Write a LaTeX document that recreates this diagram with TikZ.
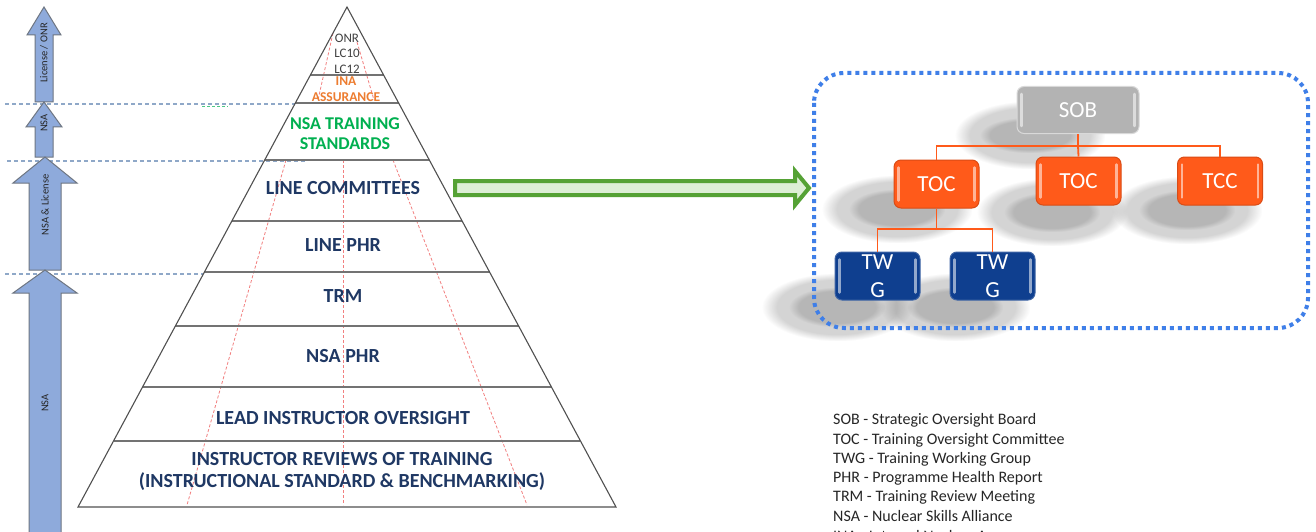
\documentclass[tikz,border=0pt]{standalone}
\usepackage{fontspec}
\setmainfont{Carlito}
\usetikzlibrary{fadings,calc}
\definecolor{navy}{HTML}{1F3864}
\definecolor{ngreen}{HTML}{00B050}
\definecolor{norange}{HTML}{ED7D31}
\definecolor{arrowblue}{HTML}{8EAADB}
\definecolor{arrowedge}{HTML}{6E7682}
\definecolor{dashblue}{HTML}{8FA8C8}
\definecolor{dotblue}{HTML}{3F7FE8}
\definecolor{redline}{HTML}{F27F7F}
\definecolor{tocorange}{HTML}{FF5A1A}
\definecolor{twgblue}{HTML}{0F3F8F}
\definecolor{sobgray}{HTML}{B3B3B3}
\definecolor{garrow}{HTML}{55A235}
\definecolor{garrowfill}{HTML}{DDEFD6}
\definecolor{pyredge}{HTML}{505050}
\definecolor{legendtext}{HTML}{262626}
\newcommand\fsz[2]{\fontsize{#1}{#2}\selectfont}
\newcommand\glossbox[1]{%
  \draw[glossline] ($(#1.north west)+(5,8)$) -- ($(#1.south west)+(5,-8)$);
  \draw[glossline] ($(#1.north east)+(-5,8)$) -- ($(#1.south east)+(-5,-8)$);}
\newcommand\softshadow[4]{%
  \fill[shadowblob, opacity=0.30] (#1-75,#2-34) rectangle (#1+75,#2+34);
  \fill[shadowblob, opacity=0.30] (#1-#3,#2-#4) rectangle (#1+#3,#2+#4);}
\begin{document}
\begin{tikzpicture}[x=1pt,y=-1pt,
  pyrlabel/.style={font=\bfseries\fsz{20}{22}, text=navy, align=center, inner sep=0pt},
  blockarrow/.style={fill=arrowblue, draw=arrowedge, line width=1pt, line join=miter},
  arrowlabel/.style={rotate=90, font=\fsz{10.5}{12}, text=black!85, inner sep=0pt},
  levelline/.style={dashblue, line width=1.3pt, dash pattern=on 4pt off 3pt},
  redguide/.style={redline, line width=0.8pt, dash pattern=on 3pt off 2pt},
  orgbox/.style={rounded corners=7pt, minimum width=85pt, minimum height=48pt, inner sep=0pt, text=white, align=center, font=\fsz{23}{28}, line width=1pt},
  shadowblob/.style={fill=black!55, path fading=circle with fuzzy edge 20 percent},
  glossline/.style={white, opacity=0.55, line width=2.5pt, line cap=round},
  orglink/.style={tocorange, line width=1.8pt},
  legend/.style={anchor=west, inner sep=0pt, font=\fsz{16}{18}, text=legendtext}
]
\useasboundingbox (0,0) rectangle (1316,532);
\clip (0,0) rectangle (1316,532);
\fill[white] (0,0) rectangle (1316,532);

% ---------- level lines ----------
\draw[levelline] (5,104) -- (295,104);
\draw[levelline] (7,161) -- (305,161);
\draw[levelline] (5,274) -- (203,274);
\draw[ngreen!70, line width=1pt, dash pattern=on 3pt off 2pt] (202,107) -- (228,107);

% ---------- left block arrows ----------
\draw[blockarrow] (35,102) -- (35,35) -- (27,35) -- (44,7) -- (61,35) -- (53,35) -- (53,102) -- cycle;
\draw[blockarrow] (35,157) -- (35,127) -- (26,127) -- (44,102) -- (62,127) -- (53,127) -- (53,157) -- cycle;
\draw[blockarrow] (29,270) -- (29,183) -- (13,183) -- (45,157) -- (77,183) -- (61,183) -- (61,270) -- cycle;
\draw[blockarrow] (29,545) -- (29,293) -- (13,293) -- (45,270) -- (77,293) -- (61,293) -- (61,545) -- cycle;
\node[arrowlabel] (lab1) at (44,53) {License / ONR};
\node[arrowlabel] (lab2) at (44,123) {NSA};
\node[arrowlabel] (lab3) at (45,205) {NSA \& License};
\node[arrowlabel] (lab4) at (45,403) {NSA};

% ---------- pyramid ----------
\draw[redguide] (333,33) -- (318,100);
\draw[redguide] (357,42) -- (374,100);
\draw[redguide] (286,160) -- (187,505);
\draw[redguide] (343,160) -- (343,505);
\draw[redguide] (393,160) -- (527,505);
\foreach \yy in {75,103,160,221,272,326,387,441}
  \draw[pyredge!80, line width=1.5pt] ({347-(\yy-7)*0.538},\yy) -- ({347+(\yy-7)*0.538},\yy);
\draw[pyredge, line width=1.1pt, line join=miter] (347,7) -- (616,507) -- (78,507) -- cycle;

\node[inner sep=0pt, align=center, font=\fsz{13}{15.5}, text=black!75] (onr) at (347,53.5) {ONR\\LC10\\LC12};
\node[inner sep=0pt, align=center, font=\bfseries\fsz{13.5}{15.5}, text=norange] (ina) at (346,89) {INA\\ASSURANCE};
\node[inner sep=0pt, align=center, font=\bfseries\fsz{18}{20}, text=ngreen] (nsats) at (345,134) {NSA TRAINING\\STANDARDS};
\node[pyrlabel] (linec) at (343,188.5) {LINE COMMITTEES};
\node[pyrlabel] (linephr) at (343,245) {LINE PHR};
\node[pyrlabel] (trm) at (343,296.5) {TRM};
\node[pyrlabel] (nsaphr) at (343,356.5) {NSA PHR};
\node[pyrlabel] (lead) at (343,418.5) {LEAD INSTRUCTOR OVERSIGHT};
\node[pyrlabel] (instr) at (342,471) {INSTRUCTOR REVIEWS OF TRAINING\\(INSTRUCTIONAL STANDARD \& BENCHMARKING)};

% ---------- green arrow ----------
\coordinate (gtip) at (809,188);
\draw[garrow, fill=garrowfill, line width=4pt, line join=miter]
  (455,181) -- (795,181) -- (795,171) -- (gtip) -- (795,205) -- (795,195) -- (455,195) -- cycle;

% ---------- org chart shadows ----------
\softshadow{1030}{135}{50}{18}
\softshadow{897}{209}{48}{20}
\softshadow{1052}{212}{48}{20}
\softshadow{1187}{210}{48}{20}
\softshadow{837}{307}{48}{20}
\softshadow{955}{307}{48}{20}

% ---------- dotted frame ----------
\draw[dotblue, line width=4pt, dash pattern=on 4pt off 4pt, rounded corners=30pt] (814,73) rectangle (1308,328);

% ---------- org chart boxes ----------
\node[orgbox, fill=sobgray, draw=black!15, minimum width=122pt, minimum height=47pt] (sob) at (1078,110) {SOB};
\node[orgbox, fill=tocorange, draw=tocorange!85!black] (toc1) at (936.5,184) {TOC};
\node[orgbox, fill=tocorange, draw=tocorange!85!black] (toc2) at (1078.5,181) {TOC};
\node[orgbox, fill=tocorange, draw=tocorange!85!black] (tcc) at (1220,181) {TCC};
\node[orgbox, fill=twgblue, draw=twgblue!80!white] (twg1) at (877.5,276) {TW\\G};
\node[orgbox, fill=twgblue, draw=twgblue!80!white] (twg2) at (992.5,276) {TW\\G};
\glossbox{sob}
\glossbox{toc1}
\glossbox{toc2}
\glossbox{tcc}
\glossbox{twg1}
\glossbox{twg2}

% ---------- connectors ----------
\coordinate (j1) at (1078,146);
\coordinate (j2) at (936.5,229);
\draw[orglink] (sob.south) -- (j1);
\draw[orglink] (j1) -| (toc1.north);
\draw[orglink] (j1) -| (tcc.north);
\draw[orglink] (j1) -- (toc2.north);
\draw[orglink] (toc1.south) -- (j2);
\draw[orglink] (j2) -| (twg1.north);
\draw[orglink] (j2) -| (twg2.north);

% ---------- legend ----------
\node[legend] (l1) at (833,420.5) {SOB - Strategic Oversight Board};
\node[legend] (l2) at (833,440) {TOC - Training Oversight Committee};
\node[legend] (l3) at (833,459) {TWG - Training Working Group};
\node[legend] (l4) at (833,478) {PHR - Programme Health Report};
\node[legend] (l5) at (833,497) {TRM - Training Review Meeting};
\node[legend] (l6) at (833,516) {NSA - Nuclear Skills Alliance};
\node[legend] (l7) at (833,536) {INA - Internal Nuclear Assurance};
\end{tikzpicture}
\end{document}
